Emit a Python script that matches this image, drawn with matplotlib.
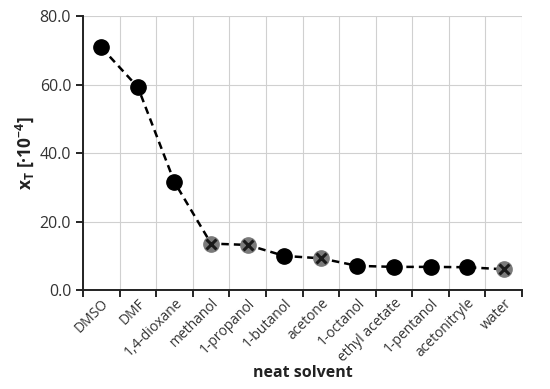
import matplotlib
matplotlib.use("Agg")
import matplotlib.pyplot as plt
import numpy as np

solvents = ["DMSO", "DMF", "1,4-dioxane", "methanol", "1-propanol", "1-butanol",
            "acetone", "1-octanol", "ethyl acetate", "1-pentanol", "acetonitryle", "water"]
x_t = [70.8, 59.2, 31.5, 13.6, 13.2, 10.0, 9.3, 7.1, 6.8, 6.8, 6.7, 6.1]
# points drawn with the grey crossed marker
crossed = [False, False, False, True, True, False, True, False, False, False, False, True]

plt.rcParams['font.family'] = ['Open Sans', 'DejaVu Sans']
plt.rcParams['mathtext.default'] = 'regular'

fig = plt.figure(figsize=(5.5, 3.89), dpi=100)
ax = fig.add_axes([0.151, 0.254, 0.798, 0.705])

pos = np.arange(len(solvents))
ax.plot(pos, x_t, color="black", linestyle=(0, (3, 2)), linewidth=1.8, zorder=3)
for i, (v, c) in enumerate(zip(x_t, crossed)):
    if c:
        ax.plot(i, v, marker="o", markersize=11, color="#7a7a7a", markeredgecolor="#7a7a7a", zorder=4)
        ax.plot(i, v, marker="x", markersize=7, color="#1a1a1a", markeredgewidth=2.2, zorder=5)
    else:
        ax.plot(i, v, marker="o", markersize=11, color="black", zorder=4)

ax.set_xlim(-0.5, len(solvents) - 0.5)
ax.set_ylim(0, 80)
ax.set_yticks([0, 20, 40, 60, 80])
ax.set_yticklabels(["%.1f" % t for t in [0, 20, 40, 60, 80]], fontsize=11.5, color="#333333")

ax.set_xticks(pos)
ax.set_xticklabels(solvents, rotation=45, ha="right", rotation_mode="anchor", fontsize=10, color="#333333")
ax.tick_params(axis="x", which="major", length=0, pad=4)
ax.set_xticks(np.arange(-0.5, len(solvents), 1), minor=True)
ax.tick_params(axis="x", which="minor", length=5, width=1.2, direction="out")
ax.tick_params(axis="y", length=5, width=1.2, direction="out")

ax.grid(True, axis="y", color="#d0d0d0", linewidth=0.8)
ax.grid(True, axis="x", which="minor", color="#d0d0d0", linewidth=0.8)
ax.set_axisbelow(True)

for s in ["top", "right"]:
    ax.spines[s].set_visible(False)
for s in ["left", "bottom"]:
    ax.spines[s].set_linewidth(1.4)
    ax.spines[s].set_color("#222222")

ax.set_xlabel("neat solvent", fontsize=11.5, fontweight="bold", color="#222222", labelpad=0)
ax.set_ylabel("x$_T$ [·10$^{-4}$]", fontsize=12.5, fontweight="bold", color="#222222", labelpad=3)

fig.savefig("out.png", dpi=100)
